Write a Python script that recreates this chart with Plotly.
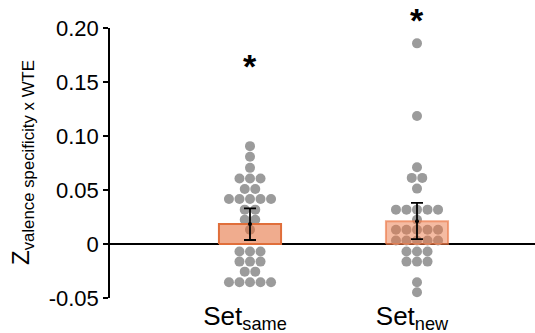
import plotly.graph_objects as go
from collections import Counter

# ---- data ----
categories = ["Set<sub>same</sub>", "Set<sub>new</sub>"]
cat_pos = [1, 2]

set_same = [0.0906, 0.0808, 0.0705,
            0.0606, 0.0606, 0.0606,
            0.0510, 0.0510,
            0.0417, 0.0417, 0.0417, 0.0417, 0.0417,
            0.0318, 0.0318,
            0.0225, 0.0225,
            0.0132,
            -0.0070, -0.0070, -0.0070,
            -0.0163, -0.0163, -0.0163,
            -0.0256, -0.0256,
            -0.0354, -0.0354, -0.0354, -0.0354, -0.0354]

set_new = [0.1858, 0.1185, 0.0711,
           0.0612, 0.0612,
           0.0513,
           0.0318, 0.0318, 0.0318, 0.0318, 0.0318,
           0.0225,
           0.0132, 0.0132, 0.0132, 0.0132, 0.0132,
           0.0033, 0.0033, 0.0033, 0.0033, 0.0033,
           -0.0070, -0.0070, -0.0070,
           -0.0163, -0.0163, -0.0163,
           -0.0354, -0.0447]

bar_means = [0.0185, 0.0210]
err_high = [0.0330, 0.0380]
err_low = [0.0037, 0.0046]
star_y = [0.165, 0.207]

ytick_vals = [-0.05, 0, 0.05, 0.10, 0.15, 0.20]
ytick_text = ["-0.05", "0", "0.05", "0.10", "0.15", "0.20"]
y_range = [-0.05, 0.20]

# ---- styling ----
DOT_STEP = 0.063
BAR_HALF = 0.186
FONT = "Liberation Sans, Arial, sans-serif"


def swarm(center, values):
    counts = Counter(values)
    seen = Counter()
    xs = []
    for v in values:
        n = counts[v]
        i = seen[v]
        seen[v] += 1
        xs.append(center + (i - (n - 1) / 2) * DOT_STEP)
    return xs


fig = go.Figure()

# dots
for c, vals in zip(cat_pos, [set_same, set_new]):
    fig.add_trace(go.Scatter(
        x=swarm(c, vals), y=vals, mode="markers",
        marker=dict(size=10, color="rgb(155,155,155)", line=dict(width=0)),
        hoverinfo="skip", showlegend=False))

# bars (drawn over dots, semi-transparent)
bar_styles = [
    dict(fill="rgba(230,112,60,0.58)", line="rgb(224,110,58)"),
    dict(fill="rgba(235,120,70,0.50)", line="rgba(235,120,70,0.65)"),
]
for c, m, st in zip(cat_pos, bar_means, bar_styles):
    fig.add_trace(go.Scatter(
        x=[c - BAR_HALF, c + BAR_HALF, c + BAR_HALF, c - BAR_HALF, c - BAR_HALF],
        y=[0, 0, m, m, 0], mode="lines", fill="toself",
        fillcolor=st["fill"], line=dict(color=st["line"], width=2),
        hoverinfo="skip", showlegend=False))

# error bars
fig.add_trace(go.Scatter(
    x=cat_pos, y=bar_means, mode="markers",
    marker=dict(size=4, color="black"),
    error_y=dict(type="data", symmetric=False,
                 array=[h - m for h, m in zip(err_high, bar_means)],
                 arrayminus=[m - l for l, m in zip(err_low, bar_means)],
                 color="black", thickness=1.8, width=6),
    hoverinfo="skip", showlegend=False))

annotations = []
for c, sy in zip(cat_pos, star_y):
    annotations.append(dict(
        x=c, y=(sy - y_range[0]) / (y_range[1] - y_range[0]),
        xref="x", yref="paper", text="<b>*</b>",
        showarrow=False, font=dict(size=34, color="black", family=FONT),
        xanchor="center", yanchor="middle"))

annotations.append(dict(
    x=(22 - 110) / 425, y=0.5, xref="paper", yref="paper",
    text="Z<sub>valence specificity x WTE</sub>",
    textangle=-90, showarrow=False, font=dict(size=24, color="black", family=FONT),
    xanchor="center", yanchor="middle"))

fig.update_layout(
    width=535, height=333,
    margin=dict(l=110, r=0, t=28, b=35),
    paper_bgcolor="white", plot_bgcolor="white",
    font=dict(family=FONT, color="black"),
    annotations=annotations,
    xaxis=dict(range=[0.1617, 2.7066], tickvals=cat_pos, ticktext=categories,
               showgrid=False, zeroline=False, showline=False, ticks="",
               ticklabelshift=-5,
               tickfont=dict(size=26), automargin=False, fixedrange=True),
    yaxis=dict(range=y_range, tickvals=ytick_vals, ticktext=ytick_text,
               showgrid=False, zeroline=True, zerolinecolor="black", zerolinewidth=1.5,
               showline=True, linecolor="black", linewidth=1.5,
               ticks="outside", ticklen=5, tickwidth=1.5, tickcolor="black",
               tickfont=dict(size=22), automargin=False, fixedrange=True),
    showlegend=False,
)

fig.write_html("out.html", config={"displayModeBar": False},
               post_script="document.body.style.margin='0';document.body.style.overflow='hidden';")
